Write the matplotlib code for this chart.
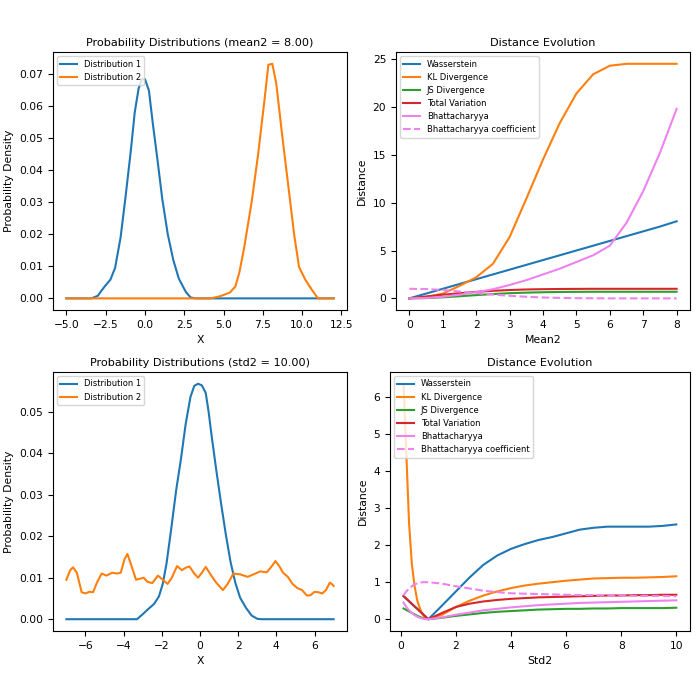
import numpy as np
from matplotlib import pyplot as plt

# --- top left: two distributions, mean2 = 8 ---
x_mean1 = [-5.0, -3.4, -3.0, -2.75, -2.5, -2.2, -1.9, -1.55, -1.25, -0.9, -0.65, -0.4, -0.2,
           0.0, 0.25, 0.5, 0.8, 1.1, 1.45, 1.8, 2.15, 2.6, 2.9, 3.2, 12.0]
p_mean1 = [0.0, 0.0, 0.0008, 0.0025, 0.0041, 0.0058, 0.0095, 0.019, 0.031, 0.046, 0.058, 0.0655, 0.0683,
           0.0683, 0.0648, 0.0545, 0.043, 0.031, 0.020, 0.012, 0.0062, 0.002, 0.0003, 0.0, 0.0]
x_mean2 = [-5.0, 4.2, 4.8, 5.4, 5.75, 6.0, 6.3, 6.8, 7.2, 7.6, 7.85, 8.1, 8.35, 8.7, 9.15, 9.5,
           9.8, 10.2, 10.6, 11.0, 12.0]
p_mean2 = [0.0, 0.0, 0.0007, 0.0018, 0.0037, 0.008, 0.0155, 0.0305, 0.045, 0.0617, 0.0728, 0.0731,
           0.067, 0.052, 0.0337, 0.0195, 0.0098, 0.0058, 0.0028, 0.0, 0.0]

# --- top right: distances vs mean2 ---
mean2 = [0.0, 0.5, 1.0, 1.5, 2.0, 2.5, 3.0, 3.5, 4.0, 4.5, 5.0, 5.5, 6.0, 6.5, 7.0, 7.5, 8.0]
wass_m = [0.0, 0.5, 1.0, 1.5, 2.0, 2.5, 3.0, 3.5, 4.0, 4.5, 5.0, 5.5, 6.0, 6.5, 7.0, 7.5, 8.05]
kl_m = [0.0, 0.13, 0.5, 1.3, 2.2, 3.6, 6.4, 10.4, 14.5, 18.3, 21.4, 23.4, 24.3, 24.5, 24.5, 24.5, 24.5]
js_m = [0.0, 0.03, 0.11, 0.22, 0.34, 0.45, 0.54, 0.6, 0.64, 0.67, 0.68, 0.69, 0.69, 0.69, 0.69, 0.69, 0.69]
tv_m = [0.0, 0.2, 0.38, 0.54, 0.68, 0.79, 0.87, 0.93, 0.96, 0.98, 0.99, 1.0, 1.0, 1.0, 1.0, 1.0, 1.0]
bd_m = [0.0, 0.04, 0.17, 0.38, 0.65, 0.95, 1.4, 1.9, 2.5, 3.1, 3.8, 4.5, 5.5, 7.9, 11.2, 15.2, 19.8]
bc_m = [1.0, 0.97, 0.88, 0.72, 0.55, 0.4, 0.27, 0.17, 0.09, 0.05, 0.02, 0.01, 0.0, 0.0, 0.0, 0.0, 0.0]

# --- bottom left: two distributions, std2 = 10 ---
x_std1 = [-7.0, -3.3, -3.0, -2.7, -2.4, -2.15, -1.95, -1.75, -1.5, -1.25, -1.0, -0.75, -0.5, -0.3,
          -0.1, 0.1, 0.3, 0.45, 0.6, 0.85, 1.1, 1.35, 1.6, 1.85, 2.1, 2.4, 2.7, 3.0, 3.2, 7.0]
p_std1 = [0.0, 0.0, 0.0012, 0.0025, 0.0037, 0.0055, 0.0085, 0.0135, 0.022, 0.031, 0.0385, 0.047, 0.0535,
          0.0562, 0.0567, 0.0563, 0.0545, 0.050, 0.0445, 0.036, 0.028, 0.0205, 0.0138, 0.0088, 0.0052,
          0.0028, 0.0009, 0.0001, 0.0, 0.0]
x_std2 = [-7.0, -6.8, -6.65, -6.45, -6.2, -6.0, -5.8, -5.6, -5.4, -5.15, -4.9, -4.6, -4.35, -4.15,
          -3.95, -3.8, -3.6, -3.35, -3.1, -2.95, -2.75, -2.5, -2.2, -1.95, -1.7, -1.5, -1.2, -0.95,
          -0.75, -0.55, -0.3, -0.1, 0.1, 0.3, 0.55, 0.85, 1.2, 1.45, 1.75, 2.1, 2.5, 2.8, 3.15, 3.5,
          3.8, 3.95, 4.15, 4.35, 4.6, 4.85, 5.1, 5.35, 5.6, 5.8, 6.0, 6.2, 6.4, 6.6, 6.8, 6.9, 7.0]
p_std2 = [0.0095, 0.0118, 0.0125, 0.0112, 0.0065, 0.0062, 0.0066, 0.0065, 0.0088, 0.0110, 0.0105,
          0.0112, 0.0110, 0.0112, 0.0145, 0.0157, 0.0130, 0.0095, 0.0098, 0.0100, 0.0090, 0.0087,
          0.0105, 0.0095, 0.0085, 0.0098, 0.0128, 0.0118, 0.0124, 0.0127, 0.0110, 0.0100, 0.0112,
          0.0126, 0.0108, 0.0088, 0.0070, 0.0085, 0.0110, 0.0108, 0.0102, 0.0108, 0.0115, 0.0113,
          0.0130, 0.0140, 0.0128, 0.0112, 0.0102, 0.0085, 0.0075, 0.0070, 0.0057, 0.0058, 0.0066,
          0.0065, 0.0062, 0.0070, 0.0088, 0.0085, 0.0080]

# --- bottom right: distances vs std2 ---
std2 = [0.1, 0.2, 0.3, 0.4, 0.5, 0.6, 0.7, 0.8, 0.9, 1.0, 1.5, 2.0, 2.5, 3.0, 3.5, 4.0, 4.5, 5.0,
        5.5, 6.0, 6.5, 7.0, 7.5, 8.0, 8.5, 9.0, 9.5, 10.0]
wass_s = [0.62, 0.55, 0.48, 0.41, 0.34, 0.28, 0.21, 0.14, 0.07, 0.0, 0.37, 0.75, 1.13, 1.47, 1.72,
          1.9, 2.03, 2.14, 2.22, 2.32, 2.42, 2.47, 2.5, 2.5, 2.5, 2.5, 2.52, 2.56]
kl_s = [6.36, 4.5, 2.6, 1.5, 0.9, 0.5, 0.28, 0.12, 0.03, 0.0, 0.12, 0.33, 0.5, 0.64, 0.75, 0.84,
        0.91, 0.96, 1.0, 1.04, 1.07, 1.1, 1.11, 1.12, 1.12, 1.13, 1.14, 1.16]
js_s = [0.29, 0.25, 0.21, 0.17, 0.13, 0.09, 0.06, 0.03, 0.01, 0.0, 0.04, 0.09, 0.13, 0.17, 0.2, 0.22,
        0.24, 0.26, 0.27, 0.28, 0.28, 0.29, 0.29, 0.3, 0.3, 0.3, 0.3, 0.31]
tv_s = [0.63, 0.56, 0.49, 0.42, 0.35, 0.28, 0.21, 0.14, 0.07, 0.0, 0.17, 0.33, 0.42, 0.48, 0.52, 0.55,
        0.57, 0.59, 0.6, 0.61, 0.62, 0.63, 0.64, 0.64, 0.65, 0.65, 0.66, 0.66]
bd_s = [0.45, 0.33, 0.24, 0.17, 0.11, 0.07, 0.04, 0.015, 0.004, 0.0, 0.05, 0.12, 0.18, 0.24, 0.28,
        0.32, 0.35, 0.38, 0.4, 0.42, 0.44, 0.45, 0.46, 0.47, 0.48, 0.49, 0.5, 0.51]
bc_s = [0.64, 0.75, 0.83, 0.89, 0.94, 0.97, 0.99, 1.0, 1.0, 1.0, 0.96, 0.89, 0.83, 0.77, 0.73, 0.7,
        0.69, 0.68, 0.67, 0.66, 0.65, 0.65, 0.64, 0.64, 0.63, 0.63, 0.63, 0.62]

plt.rcParams['font.size'] = 7.8
plt.rcParams['axes.titlesize'] = 8.1
plt.rcParams['axes.titlepad'] = 4.5
plt.rcParams['axes.labelsize'] = 7.8
plt.rcParams['xtick.labelsize'] = 7.7
plt.rcParams['ytick.labelsize'] = 7.7
plt.rcParams['legend.fontsize'] = 6.0

fig, axs = plt.subplots(2, 2, figsize=(7, 7), dpi=100)


def draw_dists(ax, xa, pa, xb, pb, title):
    ax.plot(xa, pa, label='Distribution 1')
    ax.plot(xb, pb, label='Distribution 2')
    ax.set_title(title)
    ax.set_xlabel('X')
    ax.set_ylabel('Probability Density')
    ax.legend(loc='upper left')


def draw_dists_evolution(ax, xs, w, kl, js, tv, bd, bc, xlabel):
    ax.plot(xs, w, label='Wasserstein')
    ax.plot(xs, kl, label='KL Divergence')
    ax.plot(xs, js, label='JS Divergence')
    ax.plot(xs, tv, label='Total Variation')
    ax.plot(xs, bd, color='violet', label='Bhattacharyya')
    ax.plot(xs, bc, color='violet', linestyle='--', label='Bhattacharyya coefficient')
    ax.set_title('Distance Evolution')
    ax.set_xlabel(xlabel)
    ax.set_ylabel('Distance')
    ax.legend(loc='upper left')


draw_dists(axs[0, 0], x_mean1, p_mean1, x_mean2, p_mean2, 'Probability Distributions (mean2 = 8.00)')
draw_dists_evolution(axs[0, 1], mean2, wass_m, kl_m, js_m, tv_m, bd_m, bc_m, 'Mean2')
draw_dists(axs[1, 0], x_std1, p_std1, x_std2, p_std2, 'Probability Distributions (std2 = 10.00)')
draw_dists_evolution(axs[1, 1], std2, wass_s, kl_s, js_s, tv_s, bd_s, bc_s, 'Std2')

axs[0, 0].set_position([0.0757, 0.557, 0.42, 0.3686])
axs[0, 1].set_position([0.5657, 0.557, 0.42, 0.3686])
axs[1, 0].set_position([0.0757, 0.0986, 0.42, 0.37])
axs[1, 1].set_position([0.557, 0.0986, 0.4286, 0.37])

fig.savefig('out.png', dpi=100)
